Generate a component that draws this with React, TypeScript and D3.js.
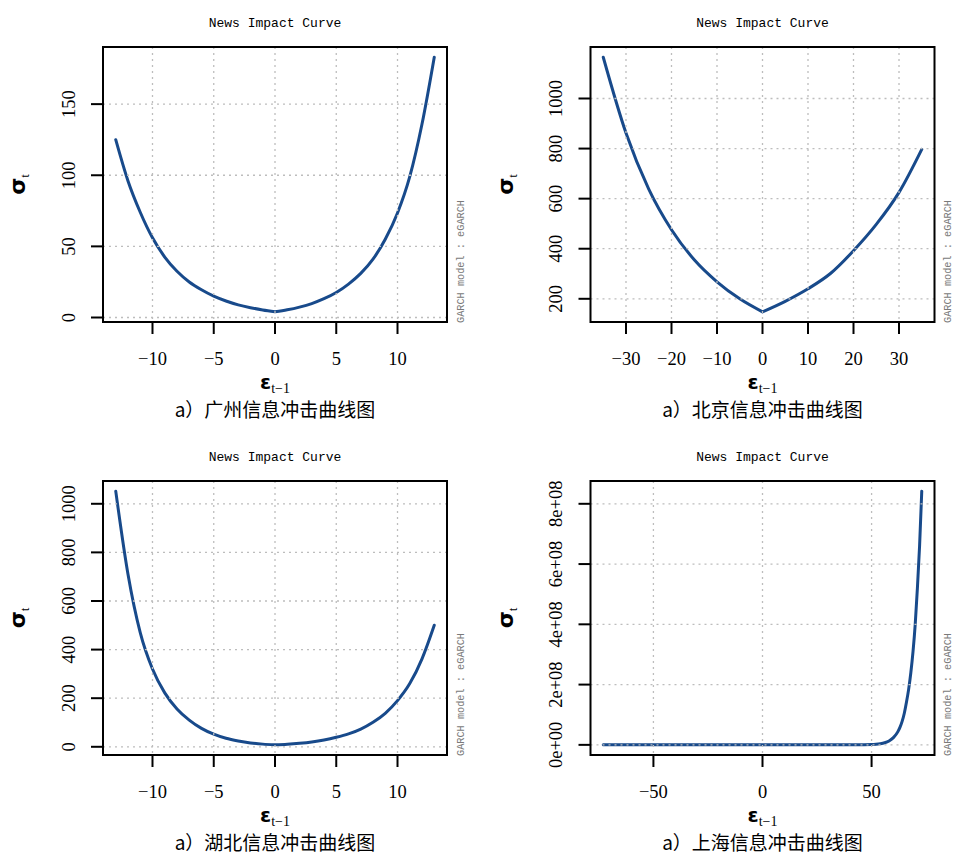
import React from 'react';
import * as d3 from 'd3';

// ---------- data ----------
const guangzhouEps = [-13, -12, -11, -10, -9, -8, -7, -6, -5, -4, -3, -2, -1, 0, 1, 2, 3, 4, 5, 6, 7, 8, 9, 10, 11, 12, 13];
const guangzhouSigma = [125, 96, 74, 56, 42.5, 32.5, 25, 19.5, 15, 11.6, 8.9, 6.9, 5.3, 4.0, 5.4, 7.3, 9.8, 13.2, 17.6, 23.5, 31, 41, 55, 73.5, 99, 136, 183];

const beijingEps = [-35, -30, -25, -20, -15, -10, -5, 0, 5, 10, 15, 20, 25, 30, 35];
const beijingSigma = [1165, 862, 638, 476, 356, 268, 200, 148, 190, 240, 302, 392, 497, 625, 797];

const hubeiEps = [-13, -12, -11, -10, -9, -8, -7, -6, -5, -4, -3, -2, -1, 0, 1, 2, 3, 4, 5, 6, 7, 8, 9, 10, 11, 12, 13];
const hubeiSigma = [1052, 710, 470, 320, 222, 156, 110, 76, 52, 35, 24, 16, 11, 8, 10.5, 14.5, 20, 28, 39, 53, 73, 101, 138, 190, 260, 362, 500];

const shanghaiEps = [-73, -60, -50, -40, -30, -20, -10, 0, 10, 20, 30, 40, 45, 50, 52, 54, 56, 58, 60, 62, 63, 64, 65, 66, 67, 68, 69, 70, 71, 72, 73];
const shanghaiSigma = [40, 45, 50, 55, 60, 70, 80, 100, 400, 2.5e3, 2e4, 1.8e5, 6e5, 1.1e6, 2e6, 3.8e6, 7e6, 1.3e7, 2.4e7, 4.3e7, 5.8e7, 7.8e7, 1.05e8, 1.42e8, 1.85e8, 2.4e8, 3.1e8, 4.0e8, 5.2e8, 6.6e8, 8.42e8];

const guangzhouXTicks = [-10, -5, 0, 5, 10];
const guangzhouYTicks = [0, 50, 100, 150];
const beijingXTicks = [-30, -20, -10, 0, 10, 20, 30];
const beijingYTicks = [200, 400, 600, 800, 1000];
const hubeiXTicks = [-10, -5, 0, 5, 10];
const hubeiYTicks = [0, 200, 400, 600, 800, 1000];
const shanghaiXTicks = [-50, 0, 50];
const shanghaiYTicks = [0, 2e8, 4e8, 6e8, 8e8];
const shanghaiYTickLabels = ['0e+00', '2e+08', '4e+08', '6e+08', '8e+08'];

const plotTitle = 'News Impact Curve';
const sideNote = 'GARCH model :  eGARCH';
const captions = ['a）广州信息冲击曲线图', 'a）北京信息冲击曲线图', 'a）湖北信息冲击曲线图', 'a）上海信息冲击曲线图'];

// ---------- layout ----------
const W = 953;
const H = 854;
const LINE_COLOR = '#184a8b';
const SERIF = '"Liberation Serif", "DejaVu Serif", serif';
const MONO = '"Liberation Mono", "DejaVu Sans Mono", monospace';

type Box = { x0: number; x1: number; y0: number; y1: number };

const panelDefs = [
  { box: { x0: 103, x1: 447, y0: 47, y1: 322 }, xs: guangzhouEps, ys: guangzhouSigma, xTicks: guangzhouXTicks, yTicks: guangzhouYTicks, yLabels: null as string[] | null, caption: captions[0] },
  { box: { x0: 590.5, x1: 934.5, y0: 47, y1: 322 }, xs: beijingEps, ys: beijingSigma, xTicks: beijingXTicks, yTicks: beijingYTicks, yLabels: null as string[] | null, caption: captions[1] },
  { box: { x0: 103, x1: 447, y0: 481, y1: 755 }, xs: hubeiEps, ys: hubeiSigma, xTicks: hubeiXTicks, yTicks: hubeiYTicks, yLabels: null as string[] | null, caption: captions[2] },
  { box: { x0: 590.5, x1: 934.5, y0: 481, y1: 755 }, xs: shanghaiEps, ys: shanghaiSigma, xTicks: shanghaiXTicks, yTicks: shanghaiYTicks, yLabels: shanghaiYTickLabels, caption: captions[3] },
];

function padded(vals: number[]): [number, number] {
  const [a, b] = d3.extent(vals) as [number, number];
  const r = b - a;
  return [a - 0.04 * r, b + 0.04 * r];
}

function Panel(props: { box: Box; xs: number[]; ys: number[]; xTicks: number[]; yTicks: number[]; yLabels: string[] | null; caption: string }) {
  const { box, xs, ys, xTicks, yTicks, yLabels, caption } = props;
  const x = d3.scaleLinear().domain(padded(xs)).range([box.x0, box.x1]);
  const y = d3.scaleLinear().domain(padded(ys)).range([box.y1, box.y0]);
  const pts = xs.map((v, i) => [v, ys[i]] as [number, number]);
  const left = pts.filter((p) => p[0] <= 0);
  const right = pts.filter((p) => p[0] >= 0);
  const line = d3
    .line<[number, number]>()
    .x((d) => x(d[0]))
    .y((d) => y(d[1]))
    .curve(d3.curveMonotoneX);
  const path = (line(left) || '') + (line(right) || '');
  const cx = (box.x0 + box.x1) / 2;
  const cy = (box.y0 + box.y1) / 2;
  const tick = 12;

  return (
    <g>
      {/* title */}
      <text x={cx} y={box.y0 - 20} textAnchor="middle" fontFamily={MONO} fontSize={13} fill="#000">
        {plotTitle}
      </text>
      {/* curve */}
      <path d={path} fill="none" stroke={LINE_COLOR} strokeWidth={3} strokeLinejoin="round" strokeLinecap="round" />
      {/* grid (drawn above the curve) */}
      <g stroke="#bdbdbd" strokeWidth={1.3} strokeDasharray="2,4">
        {xTicks.map((t) => (
          <line key={'gx' + t} x1={x(t)} x2={x(t)} y1={box.y0} y2={box.y1} />
        ))}
        {yTicks.map((t) => (
          <line key={'gy' + t} x1={box.x0} x2={box.x1} y1={y(t)} y2={y(t)} />
        ))}
      </g>
      {/* box */}
      <rect x={box.x0} y={box.y0} width={box.x1 - box.x0} height={box.y1 - box.y0} fill="none" stroke="#000" strokeWidth={2} />
      {/* x axis */}
      {xTicks.map((t) => (
        <g key={'xt' + t}>
          <line x1={x(t)} x2={x(t)} y1={box.y1} y2={box.y1 + tick} stroke="#000" strokeWidth={2} />
          <text x={x(t)} y={box.y1 + 43} textAnchor="middle" fontFamily={SERIF} fontSize={18.5} fill="#000">
            {t < 0 ? '\u2212' + Math.abs(t) : String(t)}
          </text>
        </g>
      ))}
      {/* y axis */}
      {yTicks.map((t, i) => (
        <g key={'yt' + t}>
          <line x1={box.x0 - tick} x2={box.x0} y1={y(t)} y2={y(t)} stroke="#000" strokeWidth={2} />
          <text
            transform={`translate(${box.x0 - 28.5},${y(t)}) rotate(-90)`}
            textAnchor="middle"
            fontFamily={SERIF}
            fontSize={18.5}
            fill="#000"
          >
            {yLabels ? yLabels[i] : String(t)}
          </text>
        </g>
      ))}
      {/* y label sigma_t */}
      <text transform={`translate(${box.x0 - 78},${cy}) rotate(-90)`} textAnchor="middle" fill="#000">
        <tspan fontFamily='"DejaVu Sans", sans-serif' fontWeight="bold" fontSize={22}>σ</tspan>
        <tspan fontFamily={SERIF} fontSize={12} dy={4}>t</tspan>
      </text>
      {/* x label epsilon_{t-1} */}
      <text x={cx} y={box.y1 + 67} textAnchor="middle" fill="#000">
        <tspan fontFamily='"DejaVu Sans", sans-serif' fontWeight="bold" fontSize={20}>ε</tspan>
        <tspan fontFamily={SERIF} fontSize={14} dy={4}>t{'\u2212'}1</tspan>
      </text>
      {/* side note */}
      <text
        transform={`translate(${box.x1 + 14},${box.y1 + 1}) rotate(-90)`}
        textAnchor="start"
        dominantBaseline="central"
        fontFamily={MONO}
        fontSize={10}
        fill="#7a7a7a"
        textLength={123}
        lengthAdjust="spacingAndGlyphs"
      >
        {sideNote}
      </text>
      {/* caption */}
      <text x={cx} y={box.y1 + 95} textAnchor="middle" fontFamily='"Noto Sans CJK SC", sans-serif' fontSize={19} fill="#000">
        {caption}
      </text>
    </g>
  );
}

export default function App() {
  return (
    <svg
      width={W}
      height={H}
      viewBox={`0 0 ${W} ${H}`}
      style={{ position: 'absolute', left: 0, top: 0, background: '#fff', display: 'block' }}
    >
      <rect x={0} y={0} width={W} height={H} fill="#fff" />
      {panelDefs.map((p, i) => (
        <Panel key={i} {...p} />
      ))}
    </svg>
  );
}
